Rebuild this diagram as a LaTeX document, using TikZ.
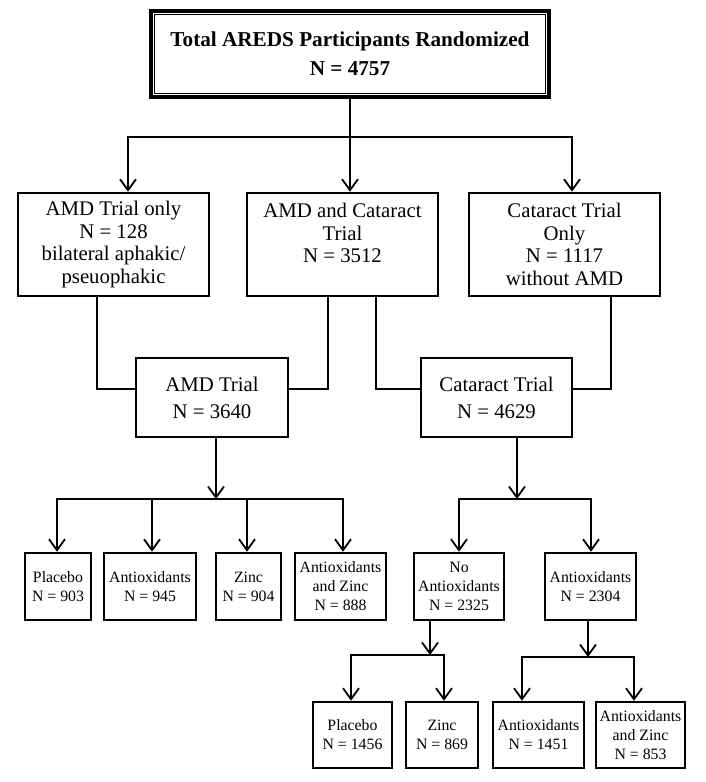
\documentclass[tikz,border=0pt]{standalone}
\usepackage{fontspec}
\setmainfont{Liberation Serif}
\usetikzlibrary{arrows.meta,calc}
\begin{document}
\begin{tikzpicture}[x=1pt,y=-1pt,
  box/.style={draw,line width=2.6pt,inner sep=0pt,align=center},
  lvtwo/.style={box,minimum width=191pt,minimum height=103pt,font=\fontsize{20.8}{22.5}\selectfont},
  lvthree/.style={box,minimum height=79pt,font=\fontsize{20.8}{27}\selectfont},
  lvfour/.style={box,minimum height=67pt,font=\fontsize{15.8}{19}\selectfont},
  lvfive/.style={box,minimum height=66pt,font=\fontsize{15.8}{19}\selectfont},
  conn/.style={line width=1.8pt,line cap=rect},
  arr/.style={line width=1.8pt,-{Straight Barb[length=11pt,width=16pt,line width=1.8pt]}}]
\useasboundingbox (0,0) rectangle (705,782);

% top
\node[draw,line width=3.5pt,inner sep=0pt,align=center,minimum width=398pt,minimum height=86pt,
      font=\fontsize{21.2}{29}\selectfont\bfseries] (top) at (350,54)
      {Total AREDS Participants Randomized\\N = 4757};
\draw[line width=1.2pt] ($(top.north west)+(5.5,5.5)$) rectangle ($(top.south east)+(-5.5,-5.5)$);

% level 2
\node[lvtwo] (A) at (113.5,244.5) {AMD Trial only\\N = 128\\bilateral aphakic/\\pseuophakic};
\node[lvtwo] (B) at (342.5,244.5) {AMD and Cataract\\Trial\\N = 3512\\\mbox{}};
\node[lvtwo] (C) at (564.5,244.5) {Cataract Trial\\Only\\N = 1117\\without AMD};

% level 3
\node[lvthree,minimum width=152pt] (AMD) at (212,397.5) {AMD Trial\\N = 3640};
\node[lvthree,minimum width=151pt] (CAT) at (496.5,397.5) {Cataract Trial\\N = 4629};

% level 4
\node[lvfour,minimum width=66pt] (P1) at (58,586.5) {Placebo\\N = 903};
\node[lvfour,minimum width=92pt] (X1) at (150,586.5) {Antioxidants\\N = 945};
\node[lvfour,minimum width=65pt] (Z1) at (248.5,586.5) {Zinc\\N = 904};
\node[lvfour,minimum width=91pt] (AZ1) at (340.5,586.5) {Antioxidants\\and Zinc\\N = 888};
\node[lvfour,minimum width=90pt] (NA) at (459,586.5) {No\\Antioxidants\\N = 2325};
\node[lvfour,minimum width=91pt] (AX) at (590.5,586.5) {Antioxidants\\N = 2304};

% level 5
\node[lvfive,minimum width=79pt] (P2) at (352.5,735) {Placebo\\N = 1456};
\node[lvfive,minimum width=72pt] (Z2) at (442,735) {Zinc\\N = 869};
\node[lvfive,minimum width=91pt] (X2) at (538.5,735) {Antioxidants\\N = 1451};
\node[lvfive,minimum width=89pt] (AZ2) at (640.5,735) {Antioxidants\\and Zinc\\N = 853};

% top -> level 2
\coordinate (t1) at (350,137);
\coordinate (hL) at (128,137);
\coordinate (hR) at (572,137);
\draw[conn] (top.south) -- (t1);
\draw[conn] (hL) -- (hR);
\draw[arr] (hL) -- (hL |- A.north);
\draw[arr] (t1) -- (t1 |- B.north);
\draw[arr] (hR) -- (hR |- C.north);

% level 2 -> level 3
\coordinate (ja) at (97,389);
\coordinate (jb) at (328,389);
\coordinate (jc) at (376,389);
\coordinate (jd) at (611,389);
\draw[conn] (A.south -| ja) -- (ja) -- (AMD.west |- ja);
\draw[conn] (B.south -| jb) -- (jb) -- (AMD.east |- jb);
\draw[conn] (B.south -| jc) -- (jc) -- (CAT.west |- jc);
\draw[conn] (C.south -| jd) -- (jd) -- (CAT.east |- jd);

% AMD -> level 4
\coordinate (ka) at (216,499);
\coordinate (k1) at (57,499);
\coordinate (k2) at (152,499);
\coordinate (k3) at (247,499);
\coordinate (k4) at (343,499);
\draw[arr] (AMD.south -| ka) -- (ka);
\draw[conn] (k1) -- (k4);
\draw[arr] (k1) -- (k1 |- P1.north);
\draw[arr] (k2) -- (k2 |- X1.north);
\draw[arr] (k3) -- (k3 |- Z1.north);
\draw[arr] (k4) -- (k4 |- AZ1.north);

% CAT -> level 4
\coordinate (kb) at (517,499);
\coordinate (k5) at (459,499);
\coordinate (k6) at (591,499);
\draw[arr] (CAT.south -| kb) -- (kb);
\draw[conn] (k5) -- (k6);
\draw[arr] (k5) -- (k5 |- NA.north);
\draw[arr] (k6) -- (k6 |- AX.north);

% NA -> level 5
\coordinate (ma) at (430,655);
\coordinate (m1) at (351,655);
\coordinate (m2) at (444,655);
\draw[arr] (NA.south -| ma) -- (ma);
\draw[conn] (m1) -- (m2);
\draw[arr] (m1) -- (m1 |- P2.north);
\draw[arr] (m2) -- (m2 |- Z2.north);

% AX -> level 5
\coordinate (mb) at (588,657);
\coordinate (m3) at (522,657);
\coordinate (m4) at (634,657);
\draw[arr] (AX.south -| mb) -- (mb);
\draw[conn] (m3) -- (m4);
\draw[arr] (m3) -- (m3 |- X2.north);
\draw[arr] (m4) -- (m4 |- AZ2.north);
\end{tikzpicture}
\end{document}
